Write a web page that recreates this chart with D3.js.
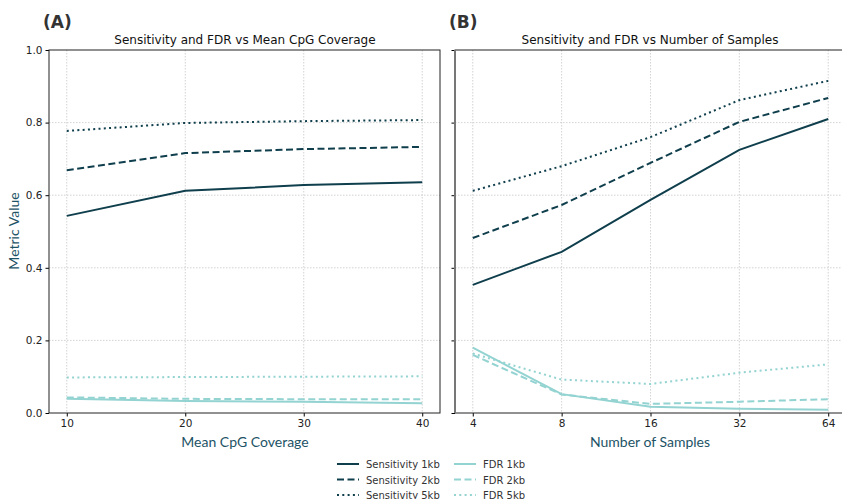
<!DOCTYPE html>
<html><head><meta charset="utf-8">
<script src="https://cdn.jsdelivr.net/npm/d3@7"></script>
<style>body{margin:0;background:#fff}svg{display:block}</style>
</head><body><svg id="c" width="842" height="499"></svg>
<script>
const coverage = [10, 20, 30, 40];
const samples = [4, 8, 16, 32, 64];
const yTicks = [0.0, 0.2, 0.4, 0.6, 0.8, 1.0];
const seriesNames = ["Sensitivity 1kb","Sensitivity 2kb","Sensitivity 5kb","FDR 1kb","FDR 2kb","FDR 5kb"];
// Panel A values (vs mean CpG coverage)
const covSens1kb = [0.543, 0.612, 0.628, 0.636];
const covSens2kb = [0.669, 0.716, 0.727, 0.733];
const covSens5kb = [0.777, 0.799, 0.804, 0.807];
const covFdr1kb = [0.039, 0.033, 0.031, 0.027];
const covFdr2kb = [0.043, 0.039, 0.038, 0.038];
const covFdr5kb = [0.098, 0.099, 0.100, 0.101];
// Panel B values (vs number of samples)
const smpSens1kb = [0.353, 0.444, 0.587, 0.725, 0.810];
const smpSens2kb = [0.482, 0.573, 0.689, 0.802, 0.868];
const smpSens5kb = [0.612, 0.680, 0.760, 0.862, 0.915];
const smpFdr1kb = [0.180, 0.052, 0.017, 0.012, 0.009];
const smpFdr2kb = [0.160, 0.051, 0.025, 0.031, 0.038];
const smpFdr5kb = [0.164, 0.092, 0.080, 0.111, 0.134];

const dark = "#0f3e4c", light = "#93d3d1", axisCol = "#1d5366";
const dashes = ["none", "7,3.5", "2,3.3"];
const styles = seriesNames.map((n,i)=>({name:n, color: i<3?dark:light, dash: dashes[i%3]}));

const svg = d3.select("#c");
const yTop = 50, yBottom = 413;
const y = d3.scaleLinear().domain([0,1]).range([yBottom, yTop]);

function panel(xs, xVals, series, left, right, opts){
  const g = svg.append("g");
  // grid
  g.selectAll(".gx").data(xVals).join("line")
    .attr("x1",d=>xs(d)).attr("x2",d=>xs(d)).attr("y1",yTop).attr("y2",yBottom)
    .attr("stroke","#c8c8c8").attr("stroke-width",0.8).attr("stroke-dasharray","1.5,1.5");
  g.selectAll(".gy").data(yTicks.slice(1,-1)).join("line")
    .attr("x1",left).attr("x2",right).attr("y1",d=>y(d)).attr("y2",d=>y(d))
    .attr("stroke","#c8c8c8").attr("stroke-width",0.8).attr("stroke-dasharray","1.5,1.5");
  // lines
  const line = d3.line().x((d,i)=>xs(xVals[i])).y(d=>y(d));
  series.forEach((s,i)=>{
    g.append("path").attr("d", line(s)).attr("fill","none")
      .attr("stroke", styles[i].color).attr("stroke-width",2)
      .attr("stroke-dasharray", styles[i].dash);
  });
  // axes
  const xa = d3.axisBottom(xs).tickValues(xVals).tickFormat(d3.format("d")).tickSize(3.5).tickPadding(3);
  const ax = g.append("g").attr("transform",`translate(0,${yBottom})`).call(xa);
  ax.select(".domain").remove();
  ax.selectAll("text").attr("font-family","DejaVu Sans").attr("font-size",10.5).attr("fill","#222");
  const ya = d3.axisLeft(y).tickValues(yTicks).tickFormat(opts.yLabels? d3.format(".1f") : "").tickSize(3.5).tickPadding(3);
  const ay = g.append("g").attr("transform",`translate(${left},0)`).call(ya);
  ay.select(".domain").remove();
  ay.selectAll("text").attr("font-family","DejaVu Sans").attr("font-size",10.5).attr("fill","#222");
  // spines
  g.append("rect").attr("x",left).attr("y",yTop).attr("width",right-left).attr("height",yBottom-yTop)
    .attr("fill","none").attr("stroke","#222").attr("stroke-width",1);
  if(opts.greyLeft) g.append("line").attr("x1",left).attr("x2",left).attr("y1",yTop).attr("y2",yBottom)
    .attr("stroke","#777").attr("stroke-width",2);
  // titles
  svg.append("text").attr("x", opts.titleX).attr("y",44).attr("text-anchor","middle")
    .attr("font-family","DejaVu Sans").attr("font-size",12).attr("fill","#111").text(opts.title);
  svg.append("text").attr("x", opts.labelX).attr("y",28).attr("font-family","DejaVu Sans")
    .attr("font-weight","bold").attr("font-size",17).attr("fill","#333").text(opts.tag);
  svg.append("text").attr("x", opts.titleX).attr("y",447).attr("text-anchor","middle")
    .attr("font-family","Lato").attr("font-size",14).attr("fill",axisCol).text(opts.xLabel);
}

const xA = d3.scaleLinear().domain([8.5, 41.5]).range([49, 440]);
panel(xA, coverage, [covSens1kb,covSens2kb,covSens5kb,covFdr1kb,covFdr2kb,covFdr5kb], 49, 440,
  {yLabels:true, title:"Sensitivity and FDR vs Mean CpG Coverage", titleX:245, labelX:43, tag:"(A)", xLabel:"Mean CpG Coverage"});
const xB = d3.scaleLog().base(2).domain([Math.pow(2,1.8), Math.pow(2,6.2)]).range([455, 846]);
panel(xB, samples, [smpSens1kb,smpSens2kb,smpSens5kb,smpFdr1kb,smpFdr2kb,smpFdr5kb], 455, 846,
  {yLabels:false, greyLeft:true, title:"Sensitivity and FDR vs Number of Samples", titleX:650, labelX:449, tag:"(B)", xLabel:"Number of Samples"});

svg.append("text").attr("transform","translate(19,231) rotate(-90)").attr("text-anchor","middle")
  .attr("font-family","Lato").attr("font-size",14).attr("fill",axisCol).text("Metric Value");

// legend
const leg = svg.append("g");
styles.forEach((s,i)=>{
  const col = Math.floor(i/3), row = i%3;
  const lx = 337 + col*117, ly = 464 + row*15.5;
  leg.append("line").attr("x1",lx).attr("x2",lx+22).attr("y1",ly).attr("y2",ly)
    .attr("stroke",s.color).attr("stroke-width",2).attr("stroke-dasharray",s.dash);
  leg.append("text").attr("x",lx+29).attr("y",ly+4).attr("font-family","DejaVu Sans")
    .attr("font-size",10).attr("fill","#333").text(s.name);
});
</script></body></html>
